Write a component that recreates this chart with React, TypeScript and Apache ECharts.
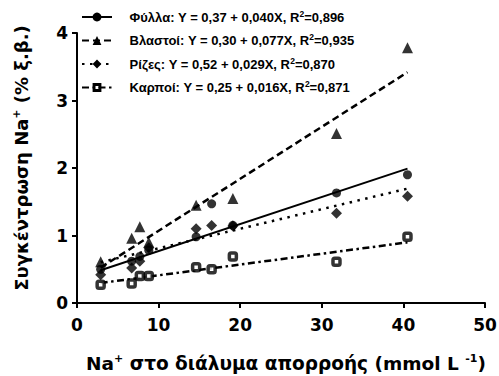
import React, { useEffect, useRef } from "react";
import * as echarts from "echarts";

const seriesNames = ["Φύλλα", "Βλαστοί", "Ρίζες", "Καρποί"];
const xLevels = [2.9, 6.7, 7.7, 8.8, 14.6, 16.5, 19.1, 31.8, 40.5];
const phyllaY = [0.5, 0.62, 0.69, 0.78, 0.98, 1.47, 1.15, 1.63, 1.9];
const vlastoiY = [0.61, 0.96, 1.13, 0.9, 1.45, null, 1.55, 2.51, 3.78];
const rizesY = [0.42, 0.52, 0.62, 0.82, 1.1, 1.15, 1.14, 1.33, 1.58];
const karpoiY = [0.27, 0.29, 0.4, 0.4, 0.53, 0.5, 0.69, 0.61, 0.98];
const intercepts = [0.37, 0.3, 0.52, 0.25];
const slopes = [0.04, 0.077, 0.029, 0.016];
const rSquared = [0.896, 0.935, 0.87, 0.871];
const fitRange = [2.9, 40.5];
const xTicks = [0, 10, 20, 30, 40, 50];
const yTicks = [0, 1, 2, 3, 4];

const FONT = "'Liberation Sans', Arial, Helvetica, sans-serif";
const AXFONT = "'DejaVu Sans', 'Liberation Sans', Arial, sans-serif";
const HOLLOW_SQUARE = "path://M0,0L10,0L10,10L0,10Z M3.3,3.3L3.3,6.7L6.7,6.7L6.7,3.3Z";
const symbols = ["circle", "triangle", "diamond", "roundRect"];
const legendSymbols = ["circle", "triangle", "diamond", HOLLOW_SQUARE];
const symbolSizes = [9, 11, 11, 7];
const dashTypes: any[] = ["solid", [7, 4], [2.5, 5.5], [7, 3.5, 2.5, 3.5]];
const lineWidths = [2, 2.5, 2.5, 2.5];

const fmt = (v: number, d: number) => v.toFixed(d).replace(".", ",");

export default function App() {
  const ref = useRef<HTMLDivElement>(null);
  useEffect(() => {
    if (!ref.current) return;
    const chart = echarts.init(ref.current, null, { renderer: "svg" });
    const ys = [phyllaY, vlastoiY, rizesY, karpoiY];
    const eqText: Record<string, string> = {};
    seriesNames.forEach((n, i) => {
      eqText[n] = `{t|${n}: Y = ${fmt(intercepts[i], 2)} + ${fmt(slopes[i], 3)}X, R}{sup|2}{t|=${fmt(rSquared[i], 3)}}`;
    });
    const markerStyle = (i: number) =>
      i === 3
        ? { color: "#fff", borderColor: "#000", borderWidth: 3.5 }
        : { color: "#000", borderColor: "#000", borderWidth: 0 };
    const lineSeries = seriesNames.map((n, i) => ({
      name: n,
      type: "line",
      symbol: legendSymbols[i],
      showSymbol: false,
      symbolSize: 10,
      silent: true,
      z: 2,
      data: fitRange.map((x) => [x, intercepts[i] + slopes[i] * x]),
      lineStyle: { color: "#000", width: lineWidths[i], type: dashTypes[i], cap: "butt" },
      itemStyle: { color: "#000", borderWidth: 0 },
    }));
    const scatterSeries = seriesNames.map((n, i) => ({
      name: n + " (τιμές)",
      type: "scatter",
      symbol: symbols[i],
      symbolSize: symbolSizes[i],
      z: 5,
      data: xLevels
        .map((x, j) => [x, ys[i][j]])
        .filter((p) => p[1] !== null && p[1] !== undefined),
      itemStyle: markerStyle(i),
    }));

    const supRich = {
      sup: { fontSize: 11, fontWeight: "bold", fontFamily: AXFONT, color: "#000", padding: [0, 0, 10, 0] },
    };

    chart.setOption({
      animation: false,
      backgroundColor: "#fff",
      grid: { left: 77, right: 14, top: 33, bottom: 73, containLabel: false, outerBoundsMode: "none" },
      legend: {
        data: seriesNames,
        orient: "vertical",
        left: 81,
        top: 9,
        padding: 0,
        itemWidth: 30,
        itemHeight: 11,
        itemGap: 9,
        selectedMode: false,
        formatter: (name: string) => eqText[name],
        textStyle: {
          fontFamily: FONT,
          fontSize: 13,
          fontWeight: "bold",
          color: "#000",
          rich: {
            t: { fontFamily: FONT, fontSize: 13, fontWeight: "bold", color: "#000" },
            sup: { fontSize: 8.5, fontWeight: "bold", fontFamily: FONT, color: "#000", padding: [0, 0, 7, 0] },
          },
        },
      },
      xAxis: {
        type: "value",
        min: xTicks[0],
        max: xTicks[xTicks.length - 1],
        interval: 10,
        name: "Na{sup|+} στο διάλυμα απορροής (mmol L {sup|-1})",
        nameLocation: "middle",
        nameGap: 50,
        nameTextStyle: {
          fontFamily: AXFONT,
          fontSize: 18.5,
          fontWeight: "bold",
          color: "#000",
          padding: [0, 0, 0, 10],
          rich: supRich,
        },
        axisLine: { lineStyle: { color: "#000", width: 2 } },
        axisTick: { show: true, inside: false, length: 5, lineStyle: { color: "#000", width: 2 } },
        axisLabel: { fontFamily: AXFONT, fontSize: 17, fontWeight: "bold", color: "#000", margin: 13 },
        splitLine: { show: false },
      },
      yAxis: {
        type: "value",
        min: yTicks[0],
        max: yTicks[yTicks.length - 1],
        interval: 1,
        name: "Συγκέντρωση Na{sup|+} (% ξ.β.)",
        nameLocation: "middle",
        nameGap: 45,
        nameTextStyle: {
          fontFamily: AXFONT,
          fontSize: 18,
          fontWeight: "bold",
          color: "#000",
          padding: [0, 0, 0, 20],
          rich: supRich,
        },
        axisLine: { show: true, lineStyle: { color: "#000", width: 2 } },
        axisTick: { show: true, inside: false, length: 5, lineStyle: { color: "#000", width: 2 } },
        axisLabel: { fontFamily: AXFONT, fontSize: 17, fontWeight: "bold", color: "#000", margin: 9 },
        splitLine: { show: false },
      },
      series: [...lineSeries, ...scatterSeries],
    });
    // shift the first rich token of each legend label by padding via option merge
    chart.setOption({
      legend: {
        textStyle: {
          rich: {
            t: { fontFamily: FONT, fontSize: 13, fontWeight: "bold", color: "#000" },
            p: { padding: [0, 0, 0, 9] },
          },
        },
        formatter: (name: string) => `{p|\u00a0}` + eqText[name],
      },
    });
    return () => chart.dispose();
  }, []);
  return (
    <div
      ref={ref}
      style={{ position: "fixed", left: 0, top: 0, width: 499, height: 376, background: "#fff" }}
    />
  );
}
